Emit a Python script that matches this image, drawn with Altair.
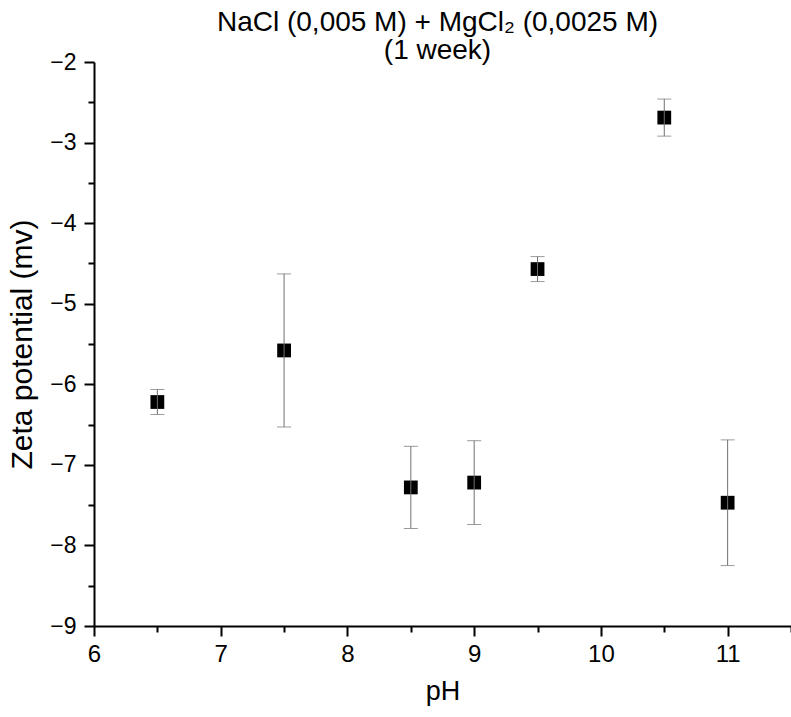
import altair as alt
import pandas as pd

ph = [6.5, 7.5, 8.5, 9.0, 9.5, 10.5, 11.0]
zeta = [-6.22, -5.58, -7.28, -7.22, -4.57, -2.69, -7.47]
err = [0.155, 0.95, 0.51, 0.52, 0.155, 0.23, 0.78]

x_major = [6, 7, 8, 9, 10, 11]
x_minor = [6.5, 7.5, 8.5, 9.5, 10.5, 11.5]
y_major = [-9, -8, -7, -6, -5, -4, -3, -2]
y_minor = [-8.5, -7.5, -6.5, -5.5, -4.5, -3.5, -2.5]

df = pd.DataFrame({"pH": ph, "zeta": zeta, "err": err})
df["lo"] = df["zeta"] - df["err"]
df["hi"] = df["zeta"] + df["err"]

FONT = "Liberation Sans"
xscale = alt.Scale(domain=[6, 11.5], nice=False, zero=False)
yscale = alt.Scale(domain=[-9, -2], nice=False, zero=False)

xaxis = alt.Axis(values=x_major, format="d", title="pH", grid=False, tickSize=10,
                 labelPadding=6, titlePadding=12, labelFontSize=24, titleFontSize=27,
                 labelFlush=False, orient="bottom")
yaxis = alt.Axis(values=y_major, format="d", title="Zeta potential (mv)", grid=False,
                 tickSize=10, labelPadding=8, titlePadding=12, labelFontSize=23,
                 titleFontSize=30, orient="left")

base = alt.Chart(df)

points = base.mark_square(size=190, color="black", opacity=1, filled=True).encode(
    x=alt.X("pH:Q", scale=xscale, axis=xaxis),
    y=alt.Y("zeta:Q", scale=yscale, axis=yaxis),
)

bars = base.mark_rule(color="#707070", strokeWidth=1).encode(
    x="pH:Q", y="lo:Q", y2="hi:Q"
)

caps = base.transform_fold(["lo", "hi"], as_=["k", "v"]).mark_tick(
    orient="horizontal", size=14, thickness=1, color="#707070"
).encode(x="pH:Q", y="v:Q")

main = alt.layer(points, bars, caps)

minor = base.mark_point(opacity=0).encode(
    x=alt.X("pH:Q", scale=xscale,
            axis=alt.Axis(values=x_minor, labels=False, title=None, grid=False,
                          tickSize=6, domain=False, orient="bottom")),
    y=alt.Y("zeta:Q", scale=yscale,
            axis=alt.Axis(values=y_minor, labels=False, title=None, grid=False,
                          tickSize=6, domain=False, orient="left")),
)

chart = alt.layer(main, minor).resolve_axis(x="independent", y="independent").properties(
    width=697,
    height=564,
    autosize=alt.AutoSizeParams(type="none"),
    padding={"left": 94, "top": 62, "right": 0, "bottom": 91},
    title=alt.TitleParams(
        text=["NaCl (0,005 M) + MgCl₂ (0,0025 M)", "(1 week)"],
        font=FONT, fontSize=28, fontWeight="normal", color="black",
        anchor="middle", lineHeight=28, offset=-14, dx=-5,
    ),
).configure_view(stroke=None).configure_axis(
    labelFont=FONT, titleFont=FONT, labelColor="black", titleColor="black",
    domainColor="black", tickColor="black", domainWidth=2, tickWidth=2,
    titleFontWeight="normal",
)

chart.save("out.html", embed_options={"renderer": "svg", "actions": False})
